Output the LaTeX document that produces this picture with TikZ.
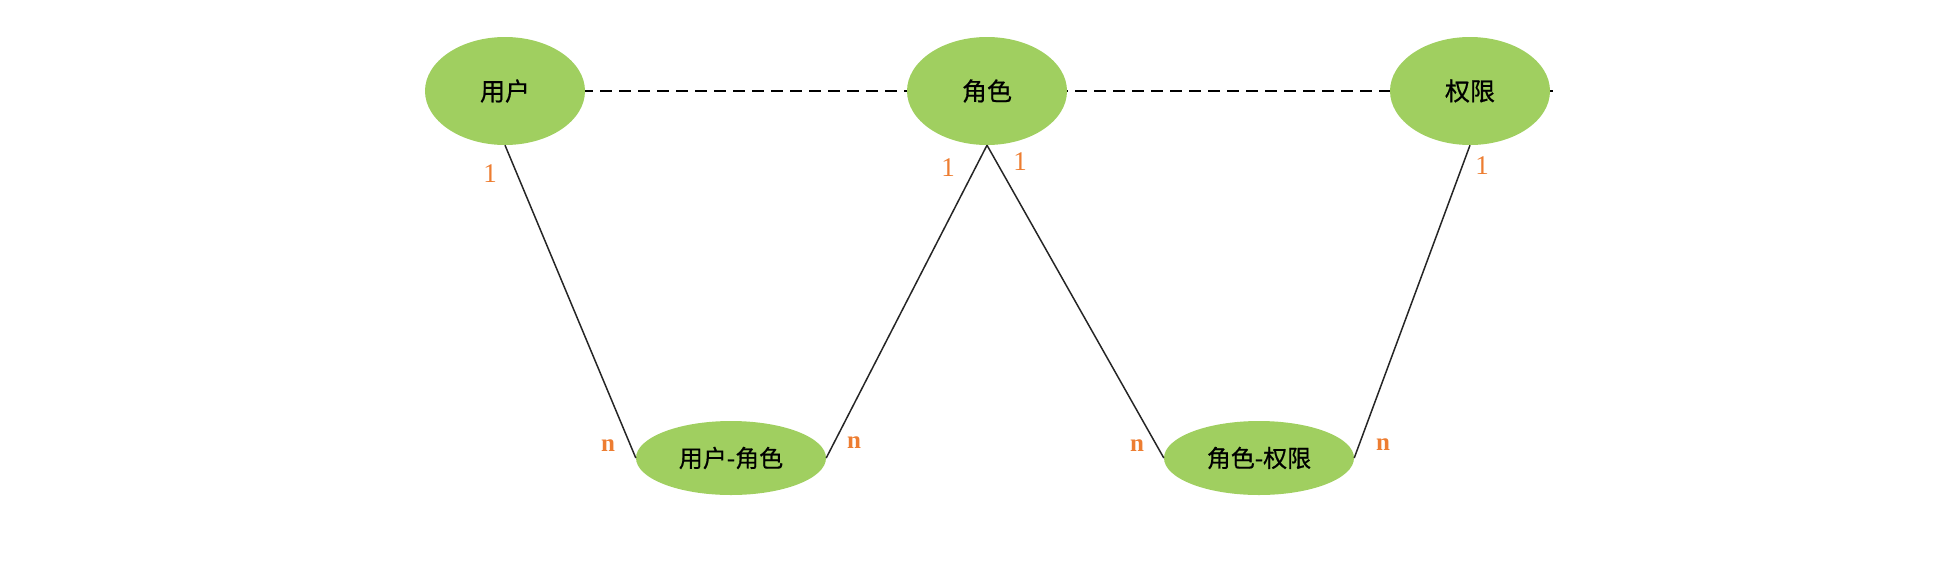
\documentclass[tikz,border=0pt]{standalone}
\usepackage{fontspec}
\setmainfont{Liberation Serif}
\newfontfamily\cjk[FakeBold=0.6]{Noto Sans CJK SC}
\usetikzlibrary{shapes.geometric}
\definecolor{egreen}{RGB}{160,207,96}
\definecolor{lorange}{RGB}{237,125,49}
\tikzset{
  bigent/.style={ellipse,fill=egreen,draw=none,minimum width=160pt,minimum height=108pt,inner sep=0pt,font=\cjk\fontsize{25}{28}\selectfont},
  relent/.style={ellipse,fill=egreen,draw=none,minimum width=190pt,minimum height=74pt,inner sep=0pt,font=\cjk\fontsize{24}{28}\selectfont},
  link/.style={draw=black!85,line width=1.5pt},
  dashlink/.style={draw=black,line width=1.5pt,dash pattern=on 12pt off 7pt},
  one/.style={text=lorange,font=\fontsize{27}{29}\selectfont,inner sep=0pt},
  many/.style={text=lorange,font=\bfseries\fontsize{25}{27}\selectfont,inner sep=0pt}
}
\begin{document}
\begin{tikzpicture}[x=1pt,y=-1pt]
\useasboundingbox (0,0) rectangle (1954,574);
\coordinate (dashend) at (1553,91);
\coordinate (dashstart) at (505,91);
\draw[dashlink] (dashstart) -- (dashend);
\node[bigent] (user) at (505,91) {用户};
\node[bigent] (role) at (987,91) {角色};
\node[bigent] (perm) at (1470,91) {权限};
\node[relent] (ur) at (731,458) {用户-角色};
\node[relent] (rp) at (1259,458) {角色-权限};
\draw[link] (user.south) -- (ur.west);
\draw[link] (role.south) -- (ur.east);
\draw[link] (role.south) -- (rp.west);
\draw[link] (perm.south) -- (rp.east);
\node[one] (c1) at (490,174) {1};
\node[one] (c2) at (948,168) {1};
\node[one] (c3) at (1020,162) {1};
\node[one] (c4) at (1482,166) {1};
\node[many] (n1) at (608,446) {n};
\node[many] (n2) at (854,443) {n};
\node[many] (n3) at (1137,446) {n};
\node[many] (n4) at (1383,445) {n};
\end{tikzpicture}
\end{document}
